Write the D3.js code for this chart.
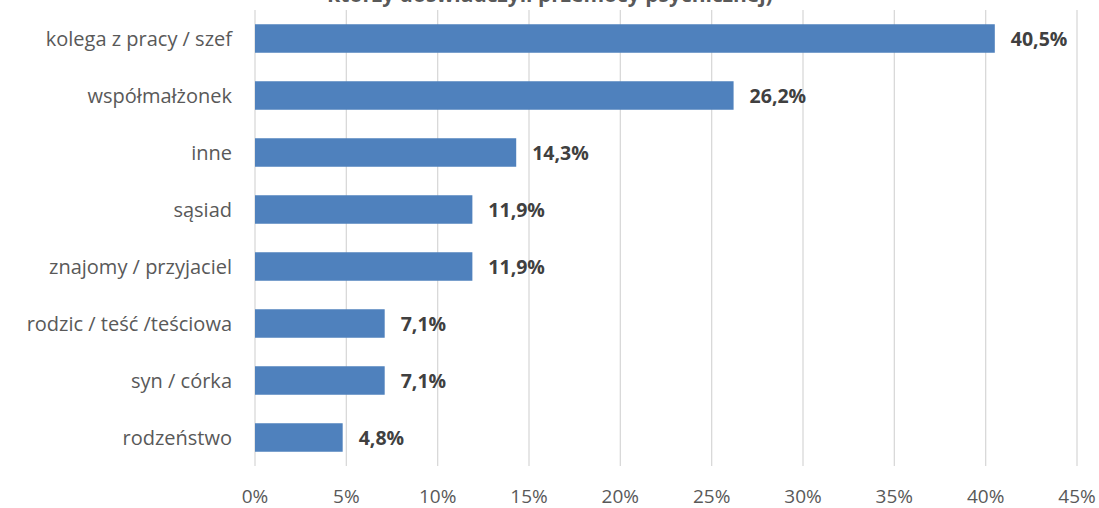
<!DOCTYPE html>
<html><head><meta charset="utf-8">
<script src="https://cdn.jsdelivr.net/npm/d3@7"></script>
<style>body{margin:0;background:#fff}svg{display:block}</style>
</head><body><svg id="c" width="1099" height="508"></svg>
<script>
const categories = ["kolega z pracy / szef","współmałżonek","inne","sąsiad","znajomy / przyjaciel","rodzic / teść /teściowa","syn / córka","rodzeństwo"];
const values = [40.5, 26.2, 14.3, 11.9, 11.9, 7.1, 7.1, 4.8];
const tickValues = [0,5,10,15,20,25,30,35,40,45];
const title = "którzy doświadczyli przemocy psychicznej)";

const svg = d3.select("#c");
const font = "'Open Sans', sans-serif";
const x = d3.scaleLinear().domain([0,45]).range([255,1077]);
const y = d3.scaleBand().domain(categories).range([10,466]).paddingInner(0.5).paddingOuter(0.25);

svg.append("g").selectAll("line").data(tickValues).join("line")
  .attr("x1", d=>x(d)).attr("x2", d=>x(d)).attr("y1",10).attr("y2",466)
  .attr("stroke","#d9d9d9").attr("stroke-width",1.3);

svg.append("g").selectAll("text").data(tickValues).join("text")
  .attr("x", d=>x(d)).attr("y",503).attr("text-anchor","middle")
  .attr("font-family",font).attr("font-size",19).attr("fill","#595959")
  .text(d=>d+"%");

svg.append("g").selectAll("rect").data(values).join("rect")
  .attr("x", x(0)).attr("y",(d,i)=>y(categories[i])).attr("height",y.bandwidth())
  .attr("width", d=>x(d)-x(0)).attr("fill","#4f81bd");

svg.append("g").selectAll("text").data(values).join("text")
  .attr("x", d=>x(d)+16).attr("y",(d,i)=>y(categories[i])+y.bandwidth()/2+7)
  .attr("font-family",font).attr("font-size",19.5).attr("font-weight","bold").attr("fill","#404040")
  .text(d=>d.toFixed(1).replace(".",",")+"%");

svg.append("g").selectAll("text").data(categories).join("text")
  .attr("x",232).attr("y",d=>y(d)+y.bandwidth()/2+7).attr("text-anchor","end")
  .attr("font-family",font).attr("font-size",20).attr("fill","#595959")
  .text(d=>d);

svg.append("text").attr("x",550).attr("y",2).attr("text-anchor","middle")
  .attr("font-family",font).attr("font-size",21).attr("font-weight","bold").attr("fill","#595959")
  .text(title);
</script></body></html>
